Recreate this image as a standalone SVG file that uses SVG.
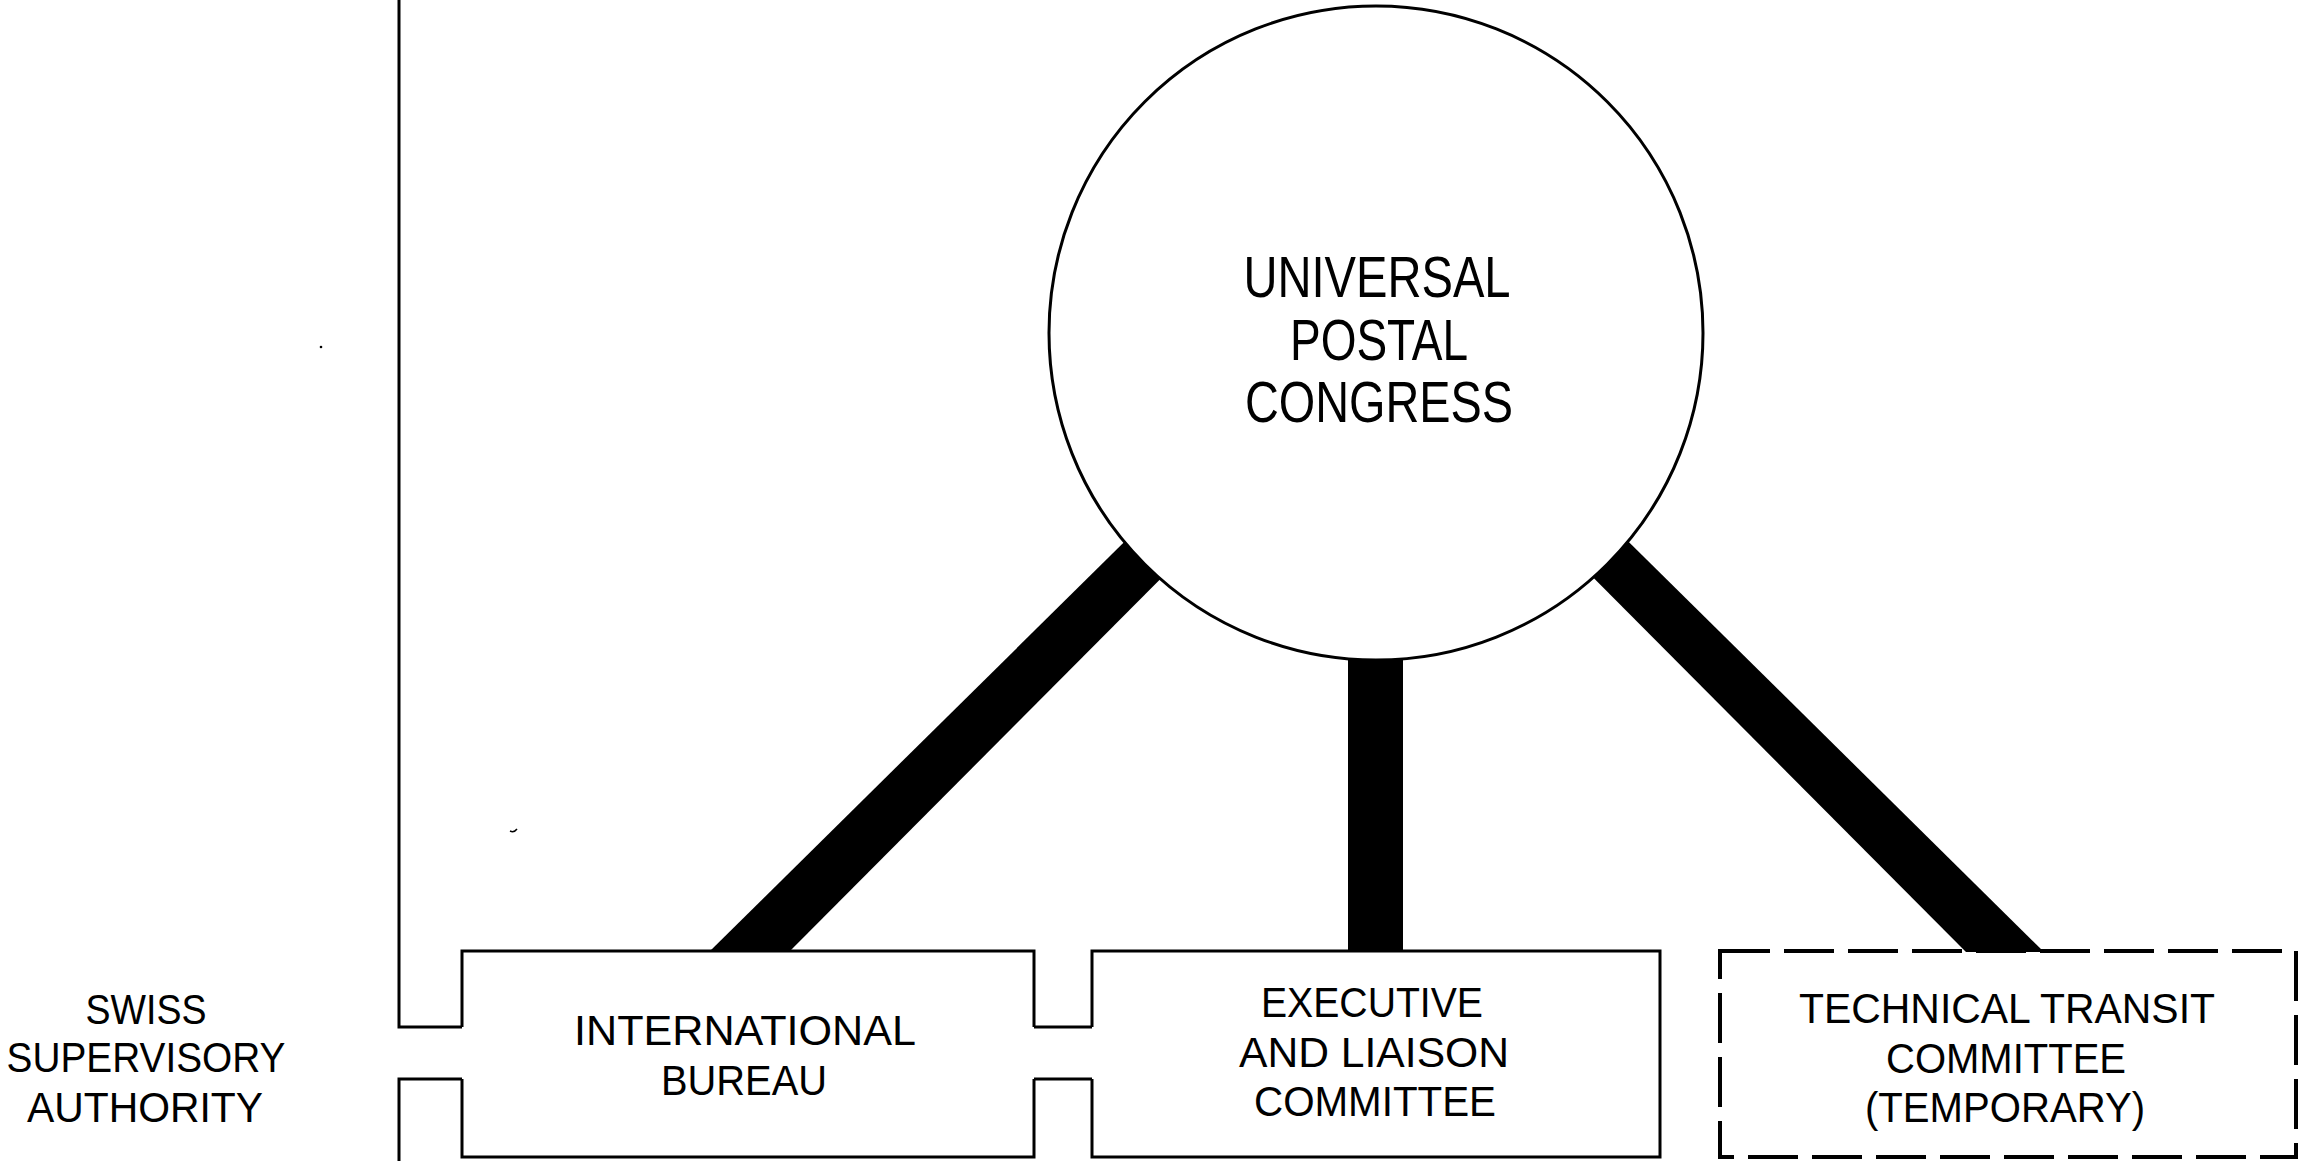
<svg xmlns="http://www.w3.org/2000/svg" width="2299" height="1161" viewBox="0 0 2299 1161">
<style>
  .ln { fill: none; stroke: #000; stroke-width: 3; stroke-linejoin: miter; }
  .dash { fill: none; stroke: #000; stroke-width: 4; stroke-dasharray: 50 14; }
  .band { fill: #000; stroke: none; }
  .t { font-family: "Liberation Sans", Arial, sans-serif; fill: #000; text-anchor: middle; lengthAdjust: spacingAndGlyphs; }
  .big { font-size: 58px; }
  .mid { font-size: 43px; }
</style>
<rect x="0" y="0" width="2299" height="1161" fill="#fff"/>

<g id="connectors">
  <polygon class="band" points="709,952 789,952 1259,480 1187,480"/>
  <rect class="band" x="1348" y="600" width="55" height="352"/>
  <polygon class="band" points="1966,952 2044,952 1566,480 1496,480"/>
  <polyline class="ln" points="399,0 399,1027 462,1027"/>
  <polyline class="ln" points="462,1079 399,1079 399,1161"/>
  <line class="ln" x1="1034" y1="1027" x2="1092" y2="1027"/>
  <line class="ln" x1="1034" y1="1079" x2="1092" y2="1079"/>
</g>

<g id="universal-postal-congress">
  <circle cx="1376" cy="333" r="327" fill="#fff" stroke="#000" stroke-width="3"/>
  <text class="t big" x="1377" y="297" textLength="267" lengthAdjust="spacingAndGlyphs">UNIVERSAL</text>
  <text class="t big" x="1379" y="360" textLength="178" lengthAdjust="spacingAndGlyphs">POSTAL</text>
  <text class="t big" x="1379" y="422" textLength="268" lengthAdjust="spacingAndGlyphs">CONGRESS</text>
</g>

<g id="swiss-supervisory-authority">
  <text class="t mid" x="146" y="1024" textLength="121" lengthAdjust="spacingAndGlyphs">SWISS</text>
  <text class="t mid" x="146" y="1072" textLength="279" lengthAdjust="spacingAndGlyphs">SUPERVISORY</text>
  <text class="t mid" x="145" y="1122" textLength="236" lengthAdjust="spacingAndGlyphs">AUTHORITY</text>
</g>

<g id="international-bureau">
  <path class="ln" d="M462,1027 V951 H1034 V1027 M462,1079 V1157 H1034 V1079"/>
  <text class="t mid" x="745" y="1045" textLength="342" lengthAdjust="spacingAndGlyphs">INTERNATIONAL</text>
  <text class="t mid" x="744" y="1095" textLength="166" lengthAdjust="spacingAndGlyphs">BUREAU</text>
</g>

<g id="executive-liaison-committee">
  <path class="ln" d="M1092,1027 V951 H1660 V1157 H1092 V1079"/>
  <text class="t mid" x="1372" y="1017" textLength="222" lengthAdjust="spacingAndGlyphs">EXECUTIVE</text>
  <text class="t mid" x="1374" y="1067" textLength="270" lengthAdjust="spacingAndGlyphs">AND LIAISON</text>
  <text class="t mid" x="1375" y="1116" textLength="242" lengthAdjust="spacingAndGlyphs">COMMITTEE</text>
</g>

<g id="technical-transit-committee">
  <rect class="dash" x="1720" y="951" width="576" height="206"/>
  <text class="t mid" x="2007" y="1023" textLength="416" lengthAdjust="spacingAndGlyphs">TECHNICAL TRANSIT</text>
  <text class="t mid" x="2006" y="1073" textLength="240" lengthAdjust="spacingAndGlyphs">COMMITTEE</text>
  <text class="t mid" x="2005" y="1122" textLength="280" lengthAdjust="spacingAndGlyphs">(TEMPORARY)</text>
</g>

<g id="specks">
  <circle cx="321" cy="347" r="1.3" fill="#000"/>
  <path d="M510,831 Q514,833 517,829" fill="none" stroke="#000" stroke-width="1.5"/>
</g>
</svg>
